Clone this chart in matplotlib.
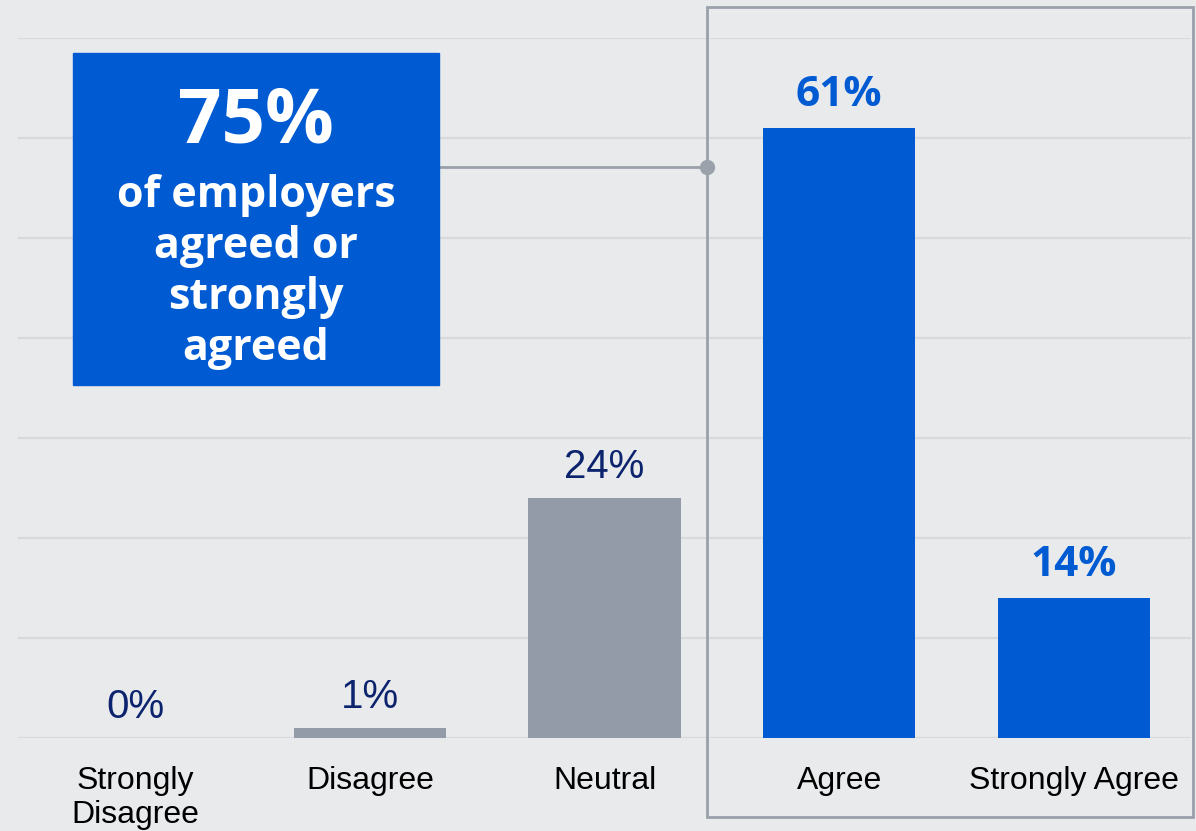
import matplotlib.pyplot as plt
from matplotlib.patches import Rectangle

categories = ["Strongly\nDisagree", "Disagree", "Neutral", "Agree", "Strongly Agree"]
values = [0, 1, 24, 61, 14]
highlight = [False, False, False, True, True]
total_agree = 75
callout = "of employers\nagreed or\nstrongly\nagreed"

bg = "#e9eaec"
blue = "#005bd3"
grey_bar = "#949ba8"
navy = "#0c246e"
frame = "#9aa1ab"

fig = plt.figure(figsize=(11.96, 8.31), dpi=100, facecolor=bg)
ax = fig.add_axes([18 / 1196, 93 / 831, 1173 / 1196, 700 / 831])
ax.set_facecolor(bg)
ax.set_xlim(-0.5, 4.5)
ax.set_ylim(0, 70)

ax.set_yticks(range(0, 71, 10))
ax.yaxis.grid(True, color="#d8d9dc", linewidth=1.6)
ax.set_axisbelow(True)
ax.tick_params(axis="y", left=False, labelleft=False)
for s in ax.spines.values():
    s.set_visible(False)

x = range(len(categories))
colors = [blue if h else grey_bar for h in highlight]
ax.bar(x, values, width=0.648, color=colors, zorder=3)

ax.set_xticks(list(x))
ax.set_xticklabels(categories, fontsize=23, family="Liberation Sans", linespacing=1.2)
ax.tick_params(axis="x", length=0, pad=20)

for i, v in enumerate(values):
    if highlight[i]:
        ax.annotate(f"{v}%", (i, v), xytext=(0, 16), textcoords="offset points",
                    ha="center", va="baseline", fontsize=30.5, fontweight="bold",
                    family="Open Sans", color=blue)
    else:
        ax.annotate(f"{v}%", (i, v), xytext=(0, 14.5), textcoords="offset points",
                    ha="center", va="baseline", fontsize=29, family="Liberation Sans",
                    color=navy)

# bracket around the agree group
ax.add_patch(Rectangle((2.437, -7.9), 2.07, 81.0, fill=False, edgecolor=frame,
                       linewidth=2, clip_on=False, zorder=4))
ax.plot([1.295, 2.437], [57.1, 57.1], color=frame, linewidth=2, zorder=4, clip_on=False)
ax.plot([2.437], [57.1], "o", color=frame, markersize=10, zorder=5, clip_on=False)

# callout box
ax.add_patch(Rectangle((-0.266, 35.3), 1.561, 33.2, color=blue, zorder=5, clip_on=False))
ax.text(0.514, 61.5, f"{total_agree}%", ha="center", va="center", fontsize=55,
        fontweight="bold", family="Open Sans", color="white", zorder=6)
ax.text(0.514, 46.6, callout, ha="center", va="center", fontsize=31,
        fontweight="bold", family="Open Sans", color="white", linespacing=1.25, zorder=6)

fig.savefig("out.png", dpi=100, facecolor=bg)
